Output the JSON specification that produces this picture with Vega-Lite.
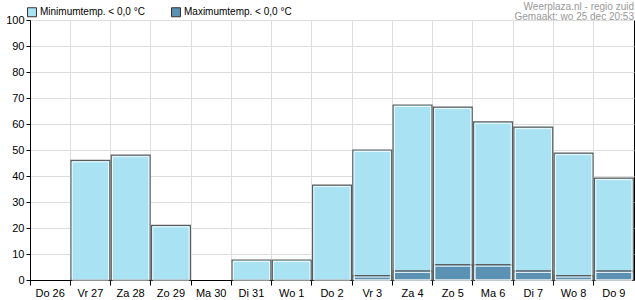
{
  "$schema": "https://vega.github.io/schema/vega-lite/v6.json",
  "autosize": "none",
  "width": 604,
  "height": 260,
  "padding": {"left": 30, "top": 20, "right": 1, "bottom": 20},
  "background": "white",
  "config": {
    "font": "Liberation Sans",
    "view": {"stroke": "#000000", "strokeWidth": 1},
    "axis": {"labelFont": "Liberation Sans", "labelFontSize": 11, "labelColor": "#000000", "domainColor": "#000000", "tickColor": "#000000", "gridColor": "#dddddd", "gridWidth": 1}
  },
  "title": {
    "text": ["Weerplaza.nl - regio zuid", "Gemaakt: wo 25 dec 20:53"],
    "anchor": "end",
    "fontSize": 10,
    "fontWeight": "normal",
    "color": "#999999",
    "lineHeight": 10,
    "offset": -15,
    "font": "Liberation Sans"
  },
  "data": {
    "values": [
      {"dag": "Vr 27", "serie": "Minimumtemp. < 0,0 °C", "kans": 46},
      {"dag": "Za 28", "serie": "Minimumtemp. < 0,0 °C", "kans": 48},
      {"dag": "Zo 29", "serie": "Minimumtemp. < 0,0 °C", "kans": 21},
      {"dag": "Di 31", "serie": "Minimumtemp. < 0,0 °C", "kans": 7.7},
      {"dag": "Wo 1", "serie": "Minimumtemp. < 0,0 °C", "kans": 7.7},
      {"dag": "Do 2", "serie": "Minimumtemp. < 0,0 °C", "kans": 36.5},
      {"dag": "Vr 3", "serie": "Minimumtemp. < 0,0 °C", "kans": 50},
      {"dag": "Za 4", "serie": "Minimumtemp. < 0,0 °C", "kans": 67.3},
      {"dag": "Zo 5", "serie": "Minimumtemp. < 0,0 °C", "kans": 66.5},
      {"dag": "Ma 6", "serie": "Minimumtemp. < 0,0 °C", "kans": 60.8},
      {"dag": "Di 7", "serie": "Minimumtemp. < 0,0 °C", "kans": 58.8},
      {"dag": "Wo 8", "serie": "Minimumtemp. < 0,0 °C", "kans": 48.8},
      {"dag": "Do 9", "serie": "Minimumtemp. < 0,0 °C", "kans": 39.2},
      {"dag": "Vr 3", "serie": "Maximumtemp. < 0,0 °C", "kans": 1.7},
      {"dag": "Za 4", "serie": "Maximumtemp. < 0,0 °C", "kans": 3.5},
      {"dag": "Zo 5", "serie": "Maximumtemp. < 0,0 °C", "kans": 5.9},
      {"dag": "Ma 6", "serie": "Maximumtemp. < 0,0 °C", "kans": 5.9},
      {"dag": "Di 7", "serie": "Maximumtemp. < 0,0 °C", "kans": 3.5},
      {"dag": "Wo 8", "serie": "Maximumtemp. < 0,0 °C", "kans": 1.7},
      {"dag": "Do 9", "serie": "Maximumtemp. < 0,0 °C", "kans": 3.5}
    ]
  },
  "encoding": {
    "x": {
      "field": "dag",
      "type": "nominal",
      "sort": null,
      "scale": {"domain": ["Do 26", "Vr 27", "Za 28", "Zo 29", "Ma 30", "Di 31", "Wo 1", "Do 2", "Vr 3", "Za 4", "Zo 5", "Ma 6", "Di 7", "Wo 8", "Do 9"], "paddingInner": 0, "paddingOuter": 0},
      "axis": {"title": null, "labelAngle": 0, "bandPosition": 0, "labelAlign": "center", "tickSize": 5, "labelPadding": 2, "grid": true}
    },
    "y": {
      "field": "kans",
      "type": "quantitative",
      "stack": null,
      "scale": {"domain": [0, 100], "nice": false},
      "axis": {"title": null, "values": [0, 10, 20, 30, 40, 50, 60, 70, 80, 90, 100], "tickSize": 4, "labelPadding": 2, "grid": true}
    }
  },
  "layer": [
    {
      "mark": {"type": "bar", "width": {"band": 0.965}, "stroke": "#5c5c5c", "strokeWidth": 1.2, "opacity": 1},
      "encoding": {
        "color": {
          "field": "serie",
          "type": "nominal",
          "sort": null,
          "scale": {"domain": ["Minimumtemp. < 0,0 °C", "Maximumtemp. < 0,0 °C"], "range": ["#a9e2f3", "#5b92b4"]},
          "legend": {
            "title": null,
            "orient": "none",
            "direction": "horizontal",
            "legendX": -3,
            "legendY": -13,
            "symbolType": "square",
            "symbolSize": 81,
            "symbolStrokeColor": "#333333",
            "symbolStrokeWidth": 1,
            "symbolOpacity": 1,
            "labelFontSize": 10,
            "labelColor": "#000000",
            "labelFont": "Liberation Sans",
            "labelOffset": 3,
            "labelLimit": 300,
            "columnPadding": 24
          }
        }
      }
    },
    {
      "mark": {"type": "bar", "width": {"band": 0.9}, "fill": null, "fillOpacity": 0, "stroke": "#eef8fb", "strokeWidth": 1, "yOffset": 1.5},
      "encoding": {}
    }
  ]
}
